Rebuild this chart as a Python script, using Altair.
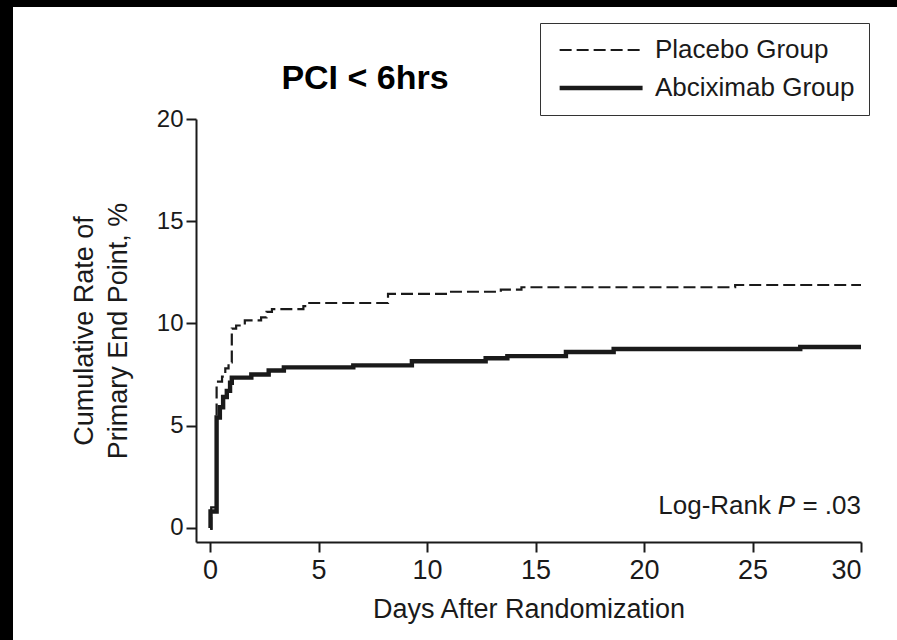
import altair as alt
import pandas as pd

FONT = "Liberation Sans"
INK = "#1a1a1a"

groups = ["Placebo Group", "Abciximab Group"]

placebo_day = [0, 0.05, 0.3, 0.55, 0.7, 0.85, 1.0, 1.2, 1.6, 2.35, 2.6, 2.85, 4.3, 4.5, 8.2, 11.05, 13.4, 14.35, 24.2, 30]
placebo_rate = [0, 1.0, 7.15, 7.4, 7.8, 8.1, 9.75, 9.9, 10.15, 10.3, 10.57, 10.7, 10.85, 11.0, 11.45, 11.55, 11.65, 11.77, 11.88, 11.88]

abcix_day = [0, 0.02, 0.3, 0.45, 0.6, 0.77, 0.92, 1.0, 1.9, 2.7, 3.4, 6.6, 9.3, 12.7, 13.7, 16.4, 18.6, 27.2, 30]
abcix_rate = [0, 0.8, 5.4, 5.9, 6.4, 6.7, 7.1, 7.35, 7.5, 7.7, 7.85, 7.95, 8.15, 8.3, 8.4, 8.6, 8.75, 8.85, 8.85]

x_ticks = [0, 5, 10, 15, 20, 25, 30]
y_ticks = [0, 5, 10, 15, 20]

ann_parts = ["Log-Rank", "P", "= .03"]
ann_day = 30
ann_rate = 0.67

df = pd.concat([
    pd.DataFrame({"day": placebo_day, "rate": placebo_rate, "group": groups[0]}),
    pd.DataFrame({"day": abcix_day, "rate": abcix_rate, "group": groups[1]}),
], ignore_index=True)

xscale = alt.Scale(domain=[-0.65, 30], nice=False, zero=False)
yscale = alt.Scale(domain=[-0.69, 20], nice=False, zero=False)

lines = alt.Chart(df).mark_line(interpolate="step-after", color=INK).encode(
    x=alt.X("day:Q", scale=xscale,
            axis=alt.Axis(values=x_ticks, title="Days After Randomization",
                          labelFontSize=27, labelPadding=5, titleFontSize=27,
                          titlePadding=13, titleFontWeight="normal")),
    y=alt.Y("rate:Q", scale=yscale,
            axis=alt.Axis(values=y_ticks, title=["Cumulative Rate of", "Primary End Point, %"],
                          labelFontSize=24, labelPadding=3, titleFontSize=27,
                          titleLineHeight=34, titlePadding=24, titleFontWeight="normal")),
    strokeDash=alt.StrokeDash("group:N",
                              scale=alt.Scale(domain=groups, range=[[12, 5], [1, 0]]),
                              legend=alt.Legend(title=None, orient="none", legendX=344, legendY=-96,
                                                strokeColor="#333", fillColor="white", padding=14,
                                                symbolType="M-1,0H7", symbolSize=430,
                                                symbolOffset=3, symbolFillColor="transparent",
                                                symbolStrokeColor=INK, labelFontSize=26,
                                                labelFont=FONT, labelColor=INK, labelOffset=72,
                                                labelLimit=600, rowPadding=12,
                                                labelExpr="datum.label + '\u00a0\u00a0\u00a0'")),
    strokeWidth=alt.StrokeWidth("group:N",
                                scale=alt.Scale(domain=groups, range=[2.2, 4.4])),
)

ann_base = alt.Chart(pd.DataFrame({"day": [ann_day], "rate": [ann_rate]}))
ann1 = ann_base.mark_text(align="right", baseline="alphabetic", fontSize=26, font=FONT,
                          color=INK, text=ann_parts[2]).encode(x="day:Q", y="rate:Q")
ann2 = ann_base.mark_text(align="right", baseline="alphabetic", fontSize=26, font=FONT,
                          color=INK, fontStyle="italic", dx=-66, text=ann_parts[1]).encode(x="day:Q", y="rate:Q")
ann3 = ann_base.mark_text(align="right", baseline="alphabetic", fontSize=26, font=FONT,
                          color=INK, dx=-90, text=ann_parts[0]).encode(x="day:Q", y="rate:Q")

frame_df = pd.DataFrame({"k": [0]})
frame_left = alt.Chart(frame_df).mark_rect(color="black").encode(
    x=alt.value(-196), x2=alt.value(-183), y=alt.value(-119), y2=alt.value(521))
frame_top = alt.Chart(frame_df).mark_rect(color="black").encode(
    x=alt.value(-196), x2=alt.value(701), y=alt.value(-119), y2=alt.value(-112))

chart = alt.layer(lines, ann1, ann2, ann3, frame_left, frame_top).properties(
    width=665, height=423,
    title=alt.TitleParams("PCI < 6hrs", anchor="start", align="center", dx=365, dy=143,
                          fontSize=34, fontWeight="bold", font=FONT, color="black",
                          baseline="alphabetic", offset=20),
    autosize=alt.AutoSizeParams(type="none"),
    padding={"left": 196, "top": 119, "right": 36, "bottom": 98},
).configure(background="white", font=FONT).configure_view(stroke=None).configure_axis(
    domainColor=INK, domainWidth=2, tickColor=INK, tickWidth=2, tickSize=10,
    labelColor=INK, titleColor=INK, labelFont=FONT, titleFont=FONT, grid=False,
)

chart.save("out.html", embed_options={"renderer": "svg", "actions": False})
